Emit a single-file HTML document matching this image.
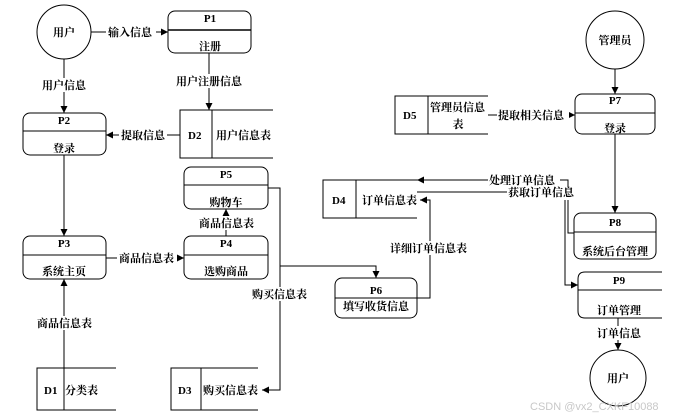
<!DOCTYPE html>
<html><head><meta charset="utf-8"><style>
body{margin:0;background:#fff}
svg{display:block}
text{font-family:"Liberation Serif","Noto Serif CJK SC","Noto Sans CJK SC",serif;font-size:11px;font-weight:bold;fill:#000}
.c{text-anchor:middle}
</style></head><body>
<svg width="676" height="420" viewBox="0 0 676 420">
<defs><marker id="a" markerWidth="8" markerHeight="8" refX="7" refY="3.5" orient="auto" markerUnits="userSpaceOnUse"><path d="M0,0 L7,3.5 L0,7z" fill="#000"/></marker></defs>
<g stroke="#000" stroke-width="1" fill="none">
<!-- circles -->
<circle cx="64" cy="32" r="27"/>
<circle cx="615" cy="40" r="29"/>
<circle cx="618" cy="378" r="28"/>
<!-- processes -->
<rect x="168" y="11" width="83" height="42" rx="7"/><line x1="168" y1="30" x2="251" y2="30" stroke-width="1.5"/>
<rect x="23" y="113" width="83" height="42" rx="7"/><line x1="23" y1="131" x2="106" y2="131"/>
<rect x="23" y="236" width="83" height="43" rx="7"/><line x1="23" y1="255" x2="106" y2="255"/>
<rect x="184" y="236" width="84" height="43" rx="7"/><line x1="184" y1="255" x2="268" y2="255"/>
<rect x="184" y="167" width="84" height="42" rx="7"/><line x1="184" y1="185" x2="268" y2="185"/>
<rect x="335" y="278" width="82" height="40" rx="7"/><line x1="335" y1="298" x2="417" y2="298"/>
<rect x="575" y="94" width="80" height="40" rx="7"/><line x1="575" y1="113" x2="655" y2="113"/>
<rect x="574" y="213" width="82" height="46" rx="7"/><line x1="574" y1="232" x2="656" y2="232"/>
<path d="M662,272 H585 Q578,272 578,279 V311 Q578,318 585,318 H662"/><line x1="578" y1="290" x2="662" y2="290"/>
<!-- stores -->
<path d="M273,110 H180 V158 H273 M212,110 V158"/>
<path d="M116,368 H37 V410 H116"/>
<path d="M258,368 H171 V410 H258 M201,368 V410"/>
<path d="M417,180 H323 V218 H417 M356,180 V218"/>
<path d="M488,96 H395 V134 H488 M428,96 V134"/>
<!-- connectors -->
<line x1="91" y1="32" x2="168" y2="32" marker-end="url(#a)"/>
<line x1="64" y1="59" x2="64" y2="113" marker-end="url(#a)"/>
<line x1="209" y1="53" x2="209" y2="110" marker-end="url(#a)"/>
<line x1="180" y1="135" x2="106" y2="135" marker-end="url(#a)"/>
<line x1="64" y1="155" x2="64" y2="236" marker-end="url(#a)"/>
<line x1="64" y1="410" x2="64" y2="279" marker-end="url(#a)"/>
<line x1="106" y1="258" x2="184" y2="258" marker-end="url(#a)"/>
<line x1="226" y1="236" x2="226" y2="209" marker-end="url(#a)"/>
<path d="M268,188 H280 V390 H262" marker-end="url(#a)"/>
<path d="M280,266 H376 V278" marker-end="url(#a)"/>
<path d="M417,298 H430 V200 H420" marker-end="url(#a)"/>
<line x1="615" y1="69" x2="615" y2="94" marker-end="url(#a)"/>
<line x1="488" y1="115" x2="575" y2="115" marker-end="url(#a)"/>
<line x1="615" y1="134" x2="615" y2="213" marker-end="url(#a)"/>
<path d="M574,233 H568 V180 H417" marker-end="url(#a)"/>
<path d="M417,192 H565 V285 H578" marker-end="url(#a)"/>
<line x1="618" y1="318" x2="618" y2="350" marker-end="url(#a)"/>
</g>
<!-- label backgrounds -->
<g fill="#fff">
<rect x="106" y="25" width="50" height="14"/><rect x="40" y="78" width="50" height="14"/>
<rect x="174" y="74" width="72" height="14"/><rect x="119" y="128" width="48" height="14"/>
<rect x="117" y="251" width="60" height="14"/><rect x="197" y="216" width="60" height="14"/>
<rect x="36" y="316" width="60" height="14"/><rect x="251" y="287" width="60" height="14"/>
<rect x="389" y="241" width="84" height="14"/><rect x="497" y="108" width="72" height="14"/>
<rect x="488" y="174" width="72" height="13"/><rect x="507" y="187" width="72" height="13"/>
<rect x="595" y="326" width="46" height="14"/>
</g>
<text class="c" x="64" y="36">用户</text>
<text class="c" x="615" y="44">管理员</text>
<text class="c" x="618" y="382">用户</text>
<text class="c" x="210" y="22">P1</text><text class="c" x="210" y="50">注册</text>
<text class="c" x="64" y="124">P2</text><text class="c" x="64" y="152">登录</text>
<text class="c" x="64" y="247">P3</text><text class="c" x="64" y="275">系统主页</text>
<text class="c" x="226" y="247">P4</text><text class="c" x="226" y="275">选购商品</text>
<text class="c" x="226" y="178">P5</text><text class="c" x="226" y="206">购物车</text>
<text class="c" x="376" y="294">P6</text><text class="c" x="376" y="310">填写收货信息</text>
<text class="c" x="615" y="104">P7</text><text class="c" x="615" y="132">登录</text>
<text class="c" x="615" y="226">P8</text><text class="c" x="615" y="255">系统后台管理</text>
<text class="c" x="619" y="284">P9</text><text class="c" x="619" y="314">订单管理</text>
<text x="188" y="139">D2</text><text x="216" y="139">用户信息表</text>
<text x="44" y="394">D1</text><text x="65" y="394">分类表</text>
<text x="178" y="394">D3</text><text x="203" y="394">购买信息表</text>
<text x="332" y="204">D4</text><text x="362" y="204">订单信息表</text>
<text x="403" y="119">D5</text><text x="430" y="111">管理员信息</text><text class="c" x="458" y="128">表</text>
<text x="108" y="36">输入信息</text>
<text x="42" y="89">用户信息</text>
<text x="176" y="85">用户注册信息</text>
<text x="121" y="139">提取信息</text>
<text x="119" y="262">商品信息表</text>
<text x="199" y="227">商品信息表</text>
<text x="37" y="327">商品信息表</text>
<text x="252" y="298">购买信息表</text>
<text x="390" y="252">详细订单信息表</text>
<text x="498" y="119">提取相关信息</text>
<text x="489" y="184">处理订单信息</text>
<text x="508" y="196">获取订单信息</text>
<text x="597" y="337">订单信息</text>
<text x="530" y="410" style="font-family:'Liberation Sans',sans-serif;font-weight:normal;fill:#c8c8c8;font-size:11px">CSDN @vx2_CXKF10088</text>
</svg>
</body></html>
